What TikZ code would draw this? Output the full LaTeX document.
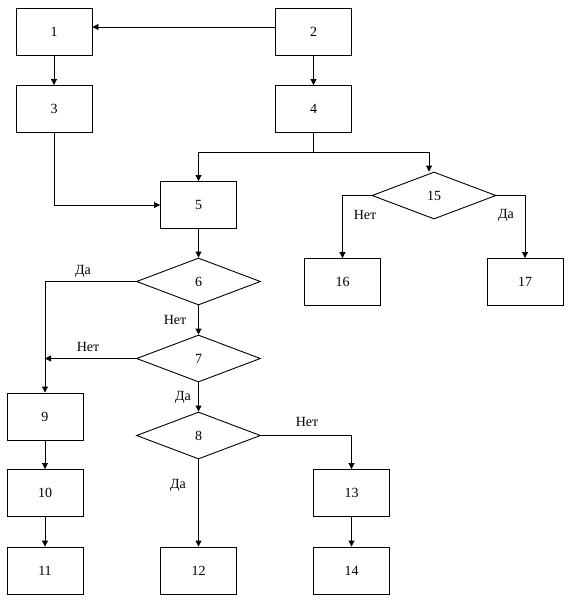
\documentclass[tikz,border=0pt]{standalone}
\usepackage{fontspec}
\setmainfont{Liberation Serif}
\usetikzlibrary{shapes.geometric,arrows.meta}
\begin{document}
\begin{tikzpicture}[x=1pt,y=-1pt,
  font=\fontsize{14}{16}\selectfont,
  line width=0.9pt,
  box/.style={draw,rectangle,minimum width=76pt,minimum height=47pt,inner sep=0pt},
  dia/.style={draw,diamond,minimum width=124pt,minimum height=47pt,inner sep=0pt},
  arr/.style={-{Triangle[length=6pt,width=6pt]}},
  lbl/.style={inner sep=0pt}]
\useasboundingbox (0,0) rectangle (571,603);
\node[box] (n1) at (54,32) {1};
\node[box] (n2) at (313.5,32) {2};
\node[box] (n3) at (54,109) {3};
\node[box] (n4) at (313.5,109) {4};
\node[box] (n5) at (198.5,205) {5};
\node[dia] (n15) at (434,195.5) {15};
\node[box] (n16) at (342.5,282) {16};
\node[box] (n17) at (525,282) {17};
\node[dia] (n6) at (198.5,281.5) {6};
\node[dia] (n7) at (198.5,358.5) {7};
\node[dia] (n8) at (198.5,435.5) {8};
\node[box] (n9) at (45,416.5) {9};
\node[box] (n10) at (45,493) {10};
\node[box] (n11) at (45,570.5) {11};
\node[box] (n12) at (198.5,570.5) {12};
\node[box] (n13) at (351.5,493) {13};
\node[box] (n14) at (351.5,570.5) {14};
\coordinate (br) at (313.5,152);
\coordinate (j7) at (45,358.5);
% connectors
\draw[arr] ([yshift=5pt]n2.west) -- ([yshift=5pt]n1.east);
\draw[arr] (n1) -- (n3);
\draw[arr] (n2) -- (n4);
\draw[arr] (n3.south) |- (n5.west);
\draw (n4.south) -- (br);
\draw[arr] (br) -| (n5.north);
\draw[arr] (br) -| ([xshift=-5pt]n15.north);
\draw[arr] (n15.west) -| (n16.north);
\draw[arr] (n15.east) -| (n17.north);
\draw[arr] (n5) -- (n6);
\draw[arr] (n6.west) -| (n9.north);
\draw[arr] (n6) -- (n7);
\draw[arr] (n7.west) -- (j7);
\draw[arr] (n7) -- (n8);
\draw[arr] (n8) -- (n12);
\draw[arr] (n8.east) -| (n13.north);
\draw[arr] (n9) -- (n10);
\draw[arr] (n10) -- (n11);
\draw[arr] (n13) -- (n14);
% labels
\node[lbl] (l15n) at (365,215) {Нет};
\node[lbl] (l15d) at (506,215) {Да};
\node[lbl] (l6d) at (83,271) {Да};
\node[lbl] (l6n) at (175,320) {Нет};
\node[lbl] (l7n) at (88,347) {Нет};
\node[lbl] (l7d) at (183,397) {Да};
\node[lbl] (l8n) at (307,422) {Нет};
\node[lbl] (l8d) at (178,485) {Да};
\end{tikzpicture}
\end{document}
